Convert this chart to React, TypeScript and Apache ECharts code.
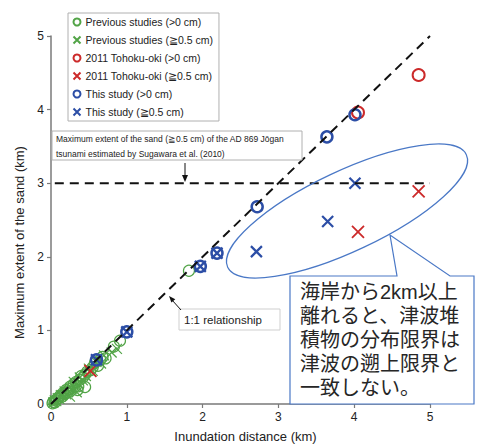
import React, { useEffect, useRef } from 'react';
import * as echarts from 'echarts';

// ---- data (km) ----
const seriesNames = [
  'Previous studies (>0 cm)',
  'Previous studies (≧0.5 cm)',
  '2011 Tohoku-oki (>0 cm)',
  '2011 Tohoku-oki (≧0.5 cm)',
  'This study (>0 cm)',
  'This study (≧0.5 cm)',
];

const previousAny: number[][] = [
  [0.91, 0.86], [0.83, 0.78], [0.72, 0.62], [0.68, 0.64], [0.62, 0.52], [0.55, 0.5],
  [0.52, 0.46], [0.48, 0.44], [0.45, 0.4], [0.45, 0.23], [0.4, 0.38], [0.38, 0.33],
  [0.36, 0.24], [0.33, 0.3], [0.3, 0.27], [0.28, 0.22], [0.26, 0.24], [0.24, 0.2],
  [0.22, 0.16], [0.2, 0.19], [0.18, 0.14], [0.16, 0.15], [0.14, 0.1], [0.12, 0.11],
  [0.1, 0.08], [0.08, 0.07], [0.06, 0.05], [0.05, 0.02], [0.03, 0.03], [0.02, 0.01],
  [0.35, 0.19], [0.42, 0.36], [0.58, 0.56], [0.65, 0.6], [1.82, 1.81],
];
const previousThick: number[][] = [
  [0.87, 0.75], [0.8, 0.7], [0.7, 0.66], [0.66, 0.55], [0.6, 0.57], [0.55, 0.45],
  [0.5, 0.48], [0.46, 0.38], [0.42, 0.32], [0.38, 0.36], [0.35, 0.28], [0.32, 0.25],
  [0.3, 0.3], [0.27, 0.2], [0.25, 0.22], [0.22, 0.19], [0.2, 0.13], [0.18, 0.17],
  [0.15, 0.12], [0.13, 0.12], [0.11, 0.07], [0.09, 0.08], [0.07, 0.04], [0.05, 0.05],
  [0.03, 0.02], [0.34, 0.16], [0.25, 0.1],
];
const tohokuAny: number[][] = [[4.05, 3.96], [4.85, 4.47]];
const tohokuThick: number[][] = [[0.52, 0.45], [4.05, 2.34], [4.85, 2.89]];
const thisAny: number[][] = [
  [0.6, 0.6], [1.0, 0.98], [1.97, 1.87], [2.19, 2.05], [2.72, 2.68], [3.64, 3.63], [4.01, 3.93],
];
const thisThick: number[][] = [
  [0.6, 0.6], [1.0, 0.98], [1.97, 1.87], [2.19, 2.05], [2.71, 2.07], [3.65, 2.48], [4.01, 3.0],
];
const oneToOne: number[][] = [[0, 0], [5, 5]];
const jogan: number[][] = [[0.05, 3], [5, 3]];
const axisTicks = [0, 1, 2, 3, 4, 5];

const GREEN = '#52a447';
const RED = '#cc2a2a';
const BLUE = '#2c4ea6';
const CALLOUT = '#4a78c6';
const XPATH = 'path://M0,0L10,10M10,0L0,10';
const LATIN = 'Liberation Sans, Arial, sans-serif';
const CJK = '"Liberation Sans", "Noto Sans CJK JP", sans-serif';

const noteLines = [
  'Maximum extent of the sand (≧0.5 cm) of the AD 869 Jōgan',
  'tsunami estimated by Sugawara et al. (2010)',
];
const calloutLines = [
  '海岸から2km以上',
  '離れると、津波堆',
  '積物の分布限界は',
  '津波の遡上限界と',
  '一致しない。',
];

function scatter(name: string, data: number[][], symbol: string, size: number, color: string, width: number) {
  return {
    type: 'scatter',
    name,
    data,
    symbol,
    symbolSize: size,
    itemStyle: { color: 'none', borderColor: color, borderWidth: width, opacity: 1 },
    emphasis: { disabled: true },
    silent: true,
  };
}

function dashed(data: number[][]) {
  return {
    type: 'line',
    data,
    symbol: 'none',
    silent: true,
    lineStyle: { color: '#111', width: 2, type: [9, 6] },
  };
}

export default function App() {
  const ref = useRef<HTMLDivElement>(null);
  useEffect(() => {
    if (!ref.current) return;
    const chart = echarts.init(ref.current, null, { renderer: 'svg' });
    const axisCommon = {
      type: 'value',
      min: 0,
      max: 5,
      interval: 1,
      splitLine: { show: false },
      axisLine: { lineStyle: { color: '#7a7a7a', width: 1.5 } },
      axisTick: { show: true, length: 4, lineStyle: { color: '#7a7a7a', width: 1.2 } },
      axisLabel: {
        color: '#222',
        fontSize: 12,
        fontFamily: LATIN,
        margin: 7,
        formatter: (v: number) => (axisTicks.includes(v) ? String(v) : ''),
      },
      nameTextStyle: { color: '#222', fontSize: 13, fontFamily: LATIN },
    };
    const calloutTexts = calloutLines.map((t, i) => ({
      type: 'text',
      x: 300,
      y: 292 + i * 24,
      style: {
        text: t,
        font: `20px ${CJK}`,
        fill: '#262626',
        verticalAlign: 'middle',
      },
      z: 14,
    }));
    const noteTexts = noteLines.map((t, i) => ({
      type: 'text',
      x: 56,
      y: 138.5 + i * 15,
      style: {
        text: t,
        font: `8.5px ${LATIN}`,
        fill: '#222',
        verticalAlign: 'middle',
      },
      z: 11,
    }));
    chart.setOption({
      animation: false,
      backgroundColor: '#fff',
      grid: { left: 51, top: 36, width: 379, height: 371 },
      xAxis: {
        ...axisCommon,
        name: 'Inundation distance (km)',
        nameLocation: 'middle',
        nameGap: 26,
        nameTextStyle: { ...axisCommon.nameTextStyle, padding: [0, 0, 0, 10] },
      },
      yAxis: {
        ...axisCommon,
        name: 'Maximum extent of the sand (km)',
        nameLocation: 'middle',
        nameGap: 25,
        nameTextStyle: { ...axisCommon.nameTextStyle, padding: [0, 45, 0, 0] },
      },
      legend: {
        data: seriesNames,
        orient: 'vertical',
        left: 68,
        top: 13,
        padding: [3, 6, 3, 3],
        itemGap: 6,
        itemWidth: 7,
        itemHeight: 7,
        borderColor: '#b0b0b0',
        borderWidth: 1,
        backgroundColor: '#fff',
        selectedMode: false,
        textStyle: { fontSize: 10.5, lineHeight: 12, color: '#222', fontFamily: LATIN },
      },
      series: [
        scatter(seriesNames[0], previousAny, 'circle', 11, GREEN, 1.2),
        scatter(seriesNames[1], previousThick, XPATH, 10, GREEN, 1.2),
        dashed(oneToOne),
        dashed(jogan),
        scatter(seriesNames[2], tohokuAny, 'circle', 12, RED, 2),
        scatter(seriesNames[3], tohokuThick, XPATH, 12, RED, 1.8),
        scatter(seriesNames[4], thisAny, 'circle', 11, BLUE, 2.5),
        scatter(seriesNames[5], thisThick, XPATH, 11, BLUE, 2.2),
      ],
      graphic: [
        // Jogan annotation box
        {
          type: 'rect',
          shape: { x: 52, y: 131, width: 250, height: 29 },
          style: { fill: '#fff', stroke: '#b0b0b0', lineWidth: 1 },
          z: 10,
        },
        ...noteTexts,
        {
          type: 'line',
          shape: { x1: 185, y1: 163, x2: 185, y2: 178 },
          style: { stroke: '#111', lineWidth: 1 },
          z: 10,
        },
        {
          type: 'polygon',
          shape: { points: [[182, 175], [188, 175], [185, 182]] },
          style: { fill: '#111' },
          z: 10,
        },
        // 1:1 relationship label
        {
          type: 'rect',
          shape: { x: 179, y: 309, width: 101, height: 21 },
          style: { fill: '#fff', stroke: '#cfcfcf', lineWidth: 1 },
          z: 10,
        },
        {
          type: 'text',
          x: 184,
          y: 320,
          style: {
            text: '1:1 relationship',
            font: `11.5px ${LATIN}`,
            fill: '#222',
            verticalAlign: 'middle',
          },
          z: 11,
        },
        {
          type: 'line',
          shape: { x1: 181, y1: 310, x2: 172, y2: 300 },
          style: { stroke: '#111', lineWidth: 1 },
          z: 10,
        },
        {
          type: 'polygon',
          shape: { points: [[169, 296], [175.3, 299.2], [171.4, 302.5]] },
          style: { fill: '#111' },
          z: 10,
        },
        // ellipse around the far-inland points
        {
          type: 'ellipse',
          x: 347,
          y: 211,
          rotation: (25.3 * Math.PI) / 180,
          shape: { cx: 0, cy: 0, rx: 132, ry: 40 },
          style: { fill: 'none', stroke: CALLOUT, lineWidth: 1.2 },
          z: 12,
        },
        // callout
        {
          type: 'polygon',
          shape: {
            points: [
              [290, 276], [397, 276], [390, 235], [450, 276], [474, 276],
              [474, 404], [290, 404],
            ],
          },
          style: { fill: '#fff', stroke: CALLOUT, lineWidth: 1.2 },
          z: 13,
        },
        ...calloutTexts,
      ],
    });
    return () => chart.dispose();
  }, []);
  return <div ref={ref} style={{ width: 477, height: 448, position: 'absolute', left: 0, top: 0 }} />;
}
